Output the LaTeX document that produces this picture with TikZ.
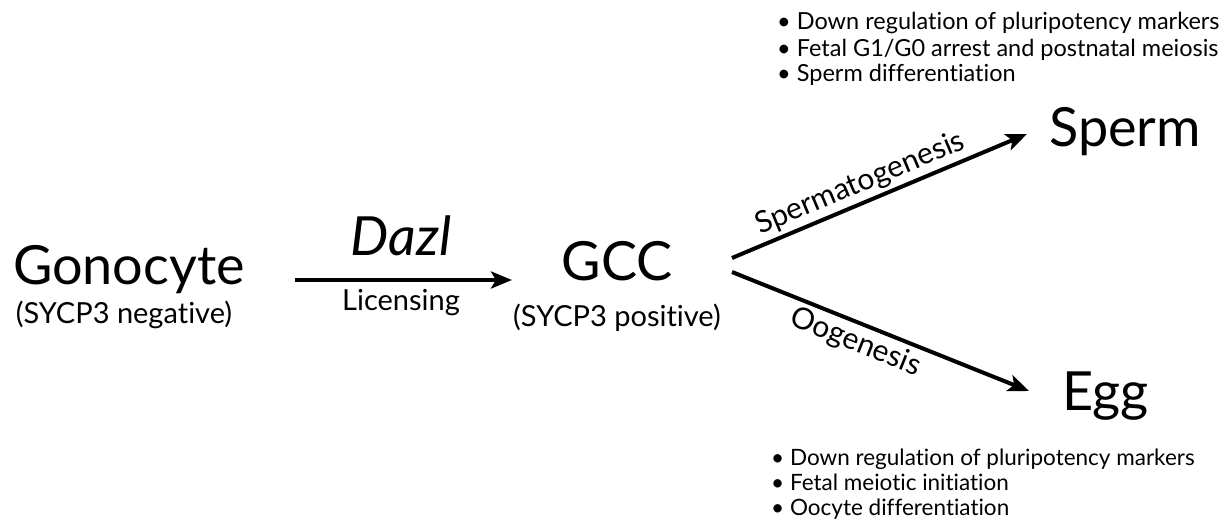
\documentclass[tikz,border=0pt]{standalone}
\usepackage{fontspec}
\setmainfont{Lato}[Ligatures={NoCommon}]
\usetikzlibrary{arrows.meta}
\begin{document}
\begin{tikzpicture}[x=1pt,y=-1pt,
  big/.style={font=\fontsize{54}{56}\selectfont, inner sep=0pt, anchor=base},
  sub/.style={font=\fontsize{29}{31}\selectfont, inner sep=0pt, anchor=base},
  lbl/.style={font=\fontsize{30}{32}\selectfont, inner sep=0pt},
  bul/.style={font=\fontsize{23.5}{25}\selectfont, inner sep=0pt, anchor=base west},
  bulb/.style={font=\fontsize{22.5}{24}\selectfont, inner sep=0pt, anchor=base west},
  arr/.style={line width=4pt, -{Stealth[length=21pt,width=17pt,inset=5pt]}}
]
\useasboundingbox (0,0) rectangle (1228,529);

% main nodes
\node[big] (gono) at (129,284) {Gonocyte};
\node[sub] (gonosub) at (124,323) {(SYCP3 negative)};
\node[big] (gcc) at (617,280) {GCC};
\node[sub] (gccsub) at (617,326) {(SYCP3 positive)};
\node[big] (sperm) at (1125,147) {Sperm};
\node[big,anchor=base west] (egg) at (1062,410) {Egg};

% connector end points
\coordinate (a1s) at (295,280);
\coordinate (a1e) at (512,280);
\coordinate (a2s) at (732,258);
\coordinate (a2e) at (1027,134);
\coordinate (a3s) at (732,272);
\coordinate (a3e) at (1029,391);

% arrows
\draw[arr] (a1s) -- (a1e);
\node[lbl, font=\fontsize{54}{56}\selectfont\itshape, anchor=base] (dazl) at (401,255) {Dazl};
\node[lbl, font=\fontsize{29}{31}\selectfont, anchor=base] (lic) at (401,310) {Licensing};

\draw[arr] (a2s) -- node[lbl, sloped, above=3pt, pos=0.46] (sg) {Spermatogenesis} (a2e);
\draw[arr] (a3s) -- node[lbl, sloped, below=4pt, pos=0.44] (og) {Oogenesis} (a3e);

% bullet lists
\node[bul] (t1) at (777,30) {• Down regulation of pluripotency markers};
\node[bul] (t2) at (777,57) {• Fetal G1/G0 arrest and postnatal meiosis};
\node[bul] (t3) at (777,82) {• Sperm differentiation};

\node[bulb] (b1) at (771,465) {• Down regulation of pluripotency markers};
\node[bulb] (b2) at (771,490) {• Fetal meiotic initiation};
\node[bulb] (b3) at (771,515) {• Oocyte differentiation};
\end{tikzpicture}
\end{document}
